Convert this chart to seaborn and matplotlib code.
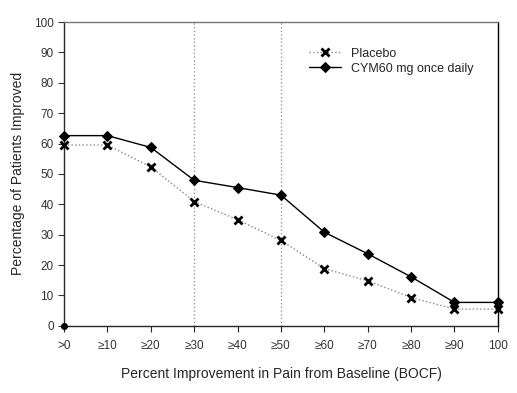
import numpy as np
import pandas as pd
import matplotlib
matplotlib.use("Agg")
import matplotlib.pyplot as plt
import seaborn as sns

sns.set_style("ticks")
plt.rcParams['font.family'] = ['Liberation Sans', 'DejaVu Sans']

# Data
tick_labels = [">0", "\u226510", "\u226520", "\u226530", "\u226540", "\u226550",
               "\u226560", "\u226570", "\u226580", "\u226590", "100"]
positions = list(range(len(tick_labels)))
placebo = [59.5, 59.5, 52.3, 40.9, 34.9, 28.1, 18.8, 14.8, 9.3, 5.5, 5.5]
cym60 = [62.6, 62.6, 58.7, 47.9, 45.5, 43.0, 30.8, 23.7, 16.1, 7.7, 7.7]
ref_lines = [3, 5]

df = pd.DataFrame({
    "pos": positions * 2,
    "value": placebo + cym60,
    "group": ["Placebo"] * len(placebo) + ["CYM60 mg once daily"] * len(cym60),
})

fig = plt.figure(figsize=(5.17, 3.93), dpi=100)
ax = fig.add_axes([0.124, 0.171, 0.839, 0.773])

for x in ref_lines:
    ax.axvline(x, color="#999999", linestyle=":", linewidth=1.0, zorder=1)

sns.lineplot(data=df[df["group"] == "Placebo"], x="pos", y="value",
             color="#888888", linestyle=":", linewidth=1.0, marker="x",
             markersize=5.5, markeredgewidth=2, markeredgecolor="black",
             label="Placebo", ax=ax, zorder=3, clip_on=False)
sns.lineplot(data=df[df["group"] == "CYM60 mg once daily"], x="pos", y="value",
             color="black", linestyle="-", linewidth=1.0, marker="D",
             markersize=5.5, markerfacecolor="black", markeredgecolor="black",
             label="CYM60 mg once daily", ax=ax, zorder=4, clip_on=False)

# small dot sitting at the origin
ax.plot([0], [0], marker="o", color="black", markersize=4, clip_on=False, zorder=5)

ax.set_xlim(0, 10)
ax.set_ylim(0, 100)
ax.set_xticks(positions)
ax.set_xticklabels(tick_labels, fontsize=8.5, color="#333333")
ax.set_yticks(np.arange(0, 101, 10))
ax.tick_params(axis="y", labelsize=8.5, colors="#333333", direction="out", length=4)
ax.tick_params(axis="x", direction="out", length=4, pad=6)
ax.set_xlabel("Percent Improvement in Pain from Baseline (BOCF)", fontsize=10, labelpad=11)
ax.set_ylabel("Percentage of Patients Improved", fontsize=10, labelpad=6)

for side in ["top", "right", "left", "bottom"]:
    ax.spines[side].set_visible(True)
    ax.spines[side].set_linewidth(1.0)
ax.spines["top"].set_color("#777777")
ax.spines["right"].set_color("black")

ax.legend(loc="upper right", bbox_to_anchor=(0.96, 0.94), frameon=False,
          fontsize=9, handlelength=2.5, borderaxespad=0.2, labelspacing=0.25)

fig.savefig("out.png", dpi=100)
